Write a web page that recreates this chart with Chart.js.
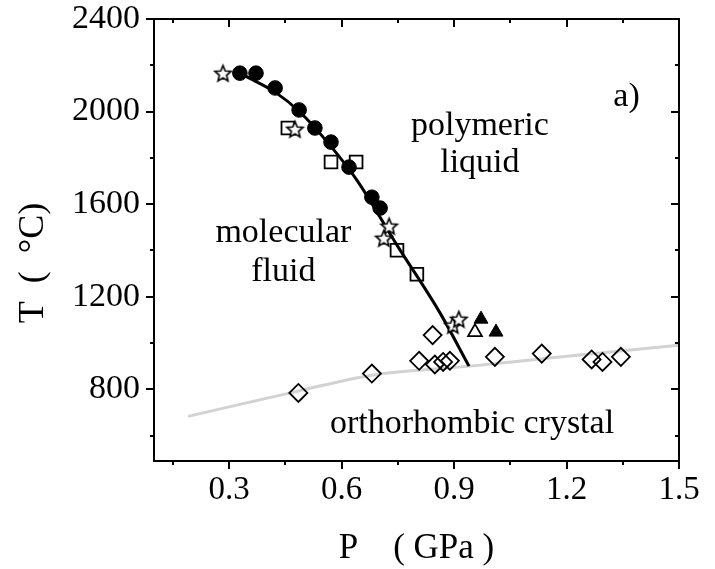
<!DOCTYPE html>
<html><head><meta charset="utf-8">
<script src="https://cdn.jsdelivr.net/npm/chart.js@4.4.0/dist/chart.umd.min.js"></script>
<style>html,body{margin:0;padding:0;background:#fff;}#wrap{width:715px;height:569px;}</style>
</head><body><div id="wrap"><canvas id="c" width="715" height="569"></canvas></div>
<script>
// ---- tick values ----
const xMajorTicks = [0.3, 0.6, 0.9, 1.2, 1.5];
const xMinorTicks = [0.15, 0.45, 0.75, 1.05, 1.35];
const yMajorTicks = [800, 1200, 1600, 2000, 2400];
const yMinorTicks = [600, 1000, 1400, 1800, 2200];

// ---- data (P in GPa, T in °C) ----
const circleP = [0.329, 0.372, 0.423, 0.487, 0.529, 0.572, 0.620, 0.681, 0.703];
const circleT = [2166, 2166, 2102, 2007, 1929, 1868, 1760, 1630, 1583];
const starP = [0.284, 0.476, 0.727, 0.713, 0.897, 0.913];
const starT = [2166, 1924, 1505, 1453, 1077, 1103];
const squareP = [0.457, 0.572, 0.639, 0.748, 0.801];
const squareT = [1929, 1782, 1782, 1401, 1297];
const triFilledP = [0.972, 1.012];
const triFilledT = [1103, 1047];
const triOpenP = [0.956];
const triOpenT = [1047];
const diamondP = [0.485, 0.681, 0.843, 0.807, 0.849, 0.871, 0.889, 1.009, 1.134, 1.267, 1.296, 1.345];
const diamondT = [784, 868, 1034, 923, 907, 918, 923, 940, 954, 929, 918, 940];
const meltP = [0.343, 0.423, 0.489, 0.569, 0.641, 0.748, 0.863, 0.940];
const meltT = [2154, 2084, 1998, 1855, 1704, 1423, 1129, 900];
const solidP = [0.191, 0.484, 0.681, 0.943, 1.148, 1.5];
const solidT = [683, 792, 861, 900, 934, 990];

const labels = [
  {text: 'polymeric', p: 0.969, t: 1898},
  {text: 'liquid', p: 0.969, t: 1738},
  {text: 'molecular', p: 0.445, t: 1436},
  {text: 'fluid', p: 0.445, t: 1267},
  {text: 'orthorhombic crystal', p: 0.948, t: 610},
  {text: 'a)', p: 1.36, t: 2024}
];
const xTitle = 'P    ( GPa )';
const yTitle = 'T  (  °C)';

const pts = (xs, ys) => xs.map((x, i) => ({x: x, y: ys[i]}));
const FONT = 'Liberation Serif';

function makeStar(r) {
  const c = document.createElement('canvas');
  const s = Math.ceil(2 * r + 4);
  c.width = s; c.height = s;
  const g = c.getContext('2d');
  g.translate(s / 2, s / 2 + r * 0.1);
  g.beginPath();
  for (let i = 0; i < 10; i++) {
    const a = -Math.PI / 2 + i * Math.PI / 5;
    const rr = i % 2 ? r * 0.45 : r;
    g.lineTo(rr * Math.cos(a), rr * Math.sin(a));
  }
  g.closePath();
  g.fillStyle = '#fff'; g.fill();
  g.lineWidth = 1.6; g.strokeStyle = '#000'; g.lineJoin = 'miter'; g.stroke();
  return c;
}
const starImg = makeStar(8.5);

const framePlugin = {
  id: 'frame',
  afterDraw(chart) {
    const {ctx, chartArea: a, scales: {x, y}} = chart;
    ctx.save();
    ctx.strokeStyle = '#000';
    ctx.lineWidth = 2;
    ctx.strokeRect(a.left, a.top, a.right - a.left, a.bottom - a.top);
    ctx.beginPath();
    const major = 8, minor = 4;
    xMajorTicks.concat(xMinorTicks).forEach((v, i) => {
      const L = i < xMajorTicks.length ? major : minor;
      const px = Math.round(x.getPixelForValue(v));
      ctx.moveTo(px, a.bottom); ctx.lineTo(px, a.bottom + L);
      ctx.moveTo(px, a.top); ctx.lineTo(px, a.top + L);
    });
    yMajorTicks.concat(yMinorTicks).forEach((v, i) => {
      const L = i < yMajorTicks.length ? major : minor;
      const py = Math.round(y.getPixelForValue(v));
      ctx.moveTo(a.left, py); ctx.lineTo(a.left - L, py);
      ctx.moveTo(a.right, py); ctx.lineTo(a.right - L, py);
    });
    ctx.stroke();
    ctx.fillStyle = '#000';
    ctx.font = '34px "' + FONT + '"';
    ctx.textAlign = 'center';
    ctx.textBaseline = 'alphabetic';
    labels.forEach(l => ctx.fillText(l.text, x.getPixelForValue(l.p), y.getPixelForValue(l.t)));
    ctx.font = '35px "' + FONT + '"';
    ctx.textBaseline = 'middle';
    ctx.fillText(xTitle, (a.left + a.right) / 2, 549);
    ctx.translate(34, 263);
    ctx.rotate(-Math.PI / 2);
    ctx.font = '36px "' + FONT + '"';
    ctx.fillText(yTitle, 0, 0);
    ctx.restore();
  }
};

new Chart(document.getElementById('c'), {
  type: 'scatter',
  data: {
    datasets: [
      {data: pts(starP, starT), pointStyle: starImg, pointRadius: 8},
      {data: pts(circleP, circleT), pointStyle: 'circle', pointRadius: 7.3, backgroundColor: '#000', borderColor: '#000', borderWidth: 1},
      {data: pts(triFilledP, triFilledT), pointStyle: 'triangle', pointRadius: 8, backgroundColor: '#000', borderColor: '#000', borderWidth: 1},
      {data: pts(triOpenP, triOpenT), pointStyle: 'triangle', pointRadius: 8, backgroundColor: 'rgba(255,255,255,0)', borderColor: '#000', borderWidth: 1.8},
      {data: pts(squareP, squareT), pointStyle: 'rect', pointRadius: 9, backgroundColor: 'rgba(255,255,255,0)', borderColor: '#000', borderWidth: 1.8},
      {data: pts(diamondP, diamondT), pointStyle: 'rectRot', pointRadius: 9, backgroundColor: 'rgba(255,255,255,0)', borderColor: '#000', borderWidth: 1.8},
      {data: pts(meltP, meltT), showLine: true, pointRadius: 0, borderColor: '#000', borderWidth: 3, cubicInterpolationMode: 'monotone', fill: false},
      {data: pts(solidP, solidT), showLine: true, pointRadius: 0, borderColor: '#d2d2d2', borderWidth: 3, cubicInterpolationMode: 'monotone', fill: false}
    ]
  },
  options: {
    responsive: false,
    animation: false,
    events: [],
    layout: {padding: {left: 0, right: 36, top: 19, bottom: 0}},
    plugins: {legend: {display: false}, tooltip: {enabled: false}},
    scales: {
      x: {
        type: 'linear', min: 0.1, max: 1.5,
        grid: {display: false, drawTicks: false}, border: {display: false},
        afterBuildTicks: s => { s.ticks = xMajorTicks.map(v => ({value: v})); },
        afterFit: s => { s.height = 108; s.paddingLeft = 0; s.paddingRight = 0; },
        ticks: {font: {family: FONT, size: 33}, color: '#000', padding: 10, maxRotation: 0, autoSkip: false, callback: v => Number(v).toFixed(1)}
      },
      y: {
        type: 'linear', min: 490, max: 2400,
        grid: {display: false, drawTicks: false}, border: {display: false},
        afterBuildTicks: s => { s.ticks = yMajorTicks.map(v => ({value: v})); },
        afterFit: s => { s.width = 154; s.paddingTop = 0; s.paddingBottom = 0; },
        ticks: {font: {family: FONT, size: 34}, color: '#000', padding: 14, autoSkip: false, callback: v => String(v)}
      }
    }
  },
  plugins: [framePlugin]
});
</script></body></html>
